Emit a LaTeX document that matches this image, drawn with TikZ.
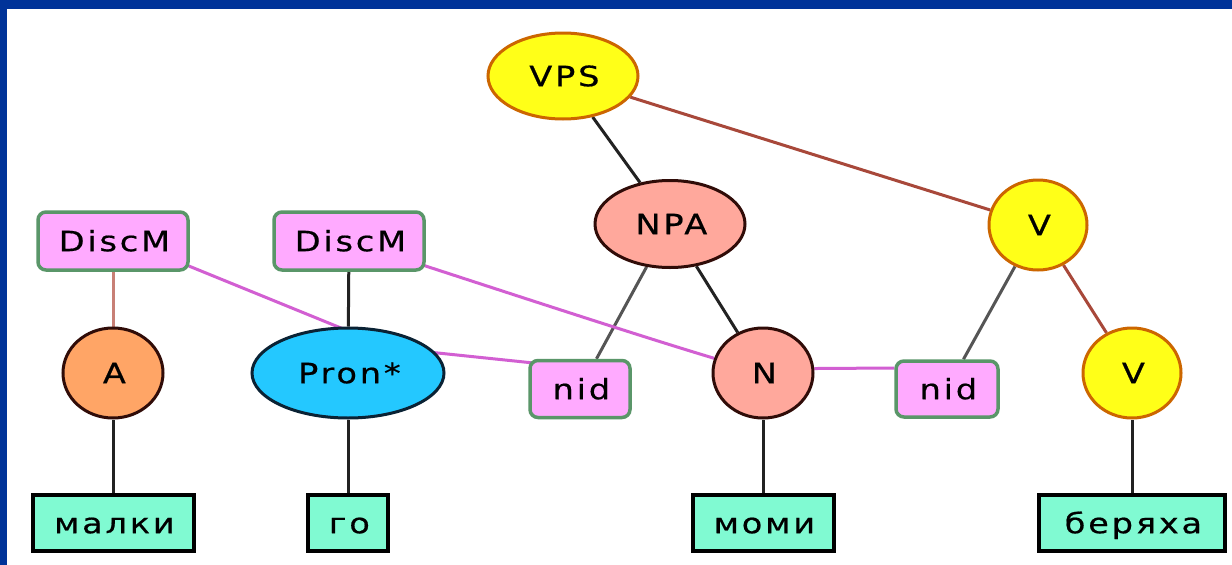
\documentclass[tikz,border=0pt]{standalone}
\usepackage{fontspec}
\setmainfont{DejaVu Sans}[LetterSpace=10,FakeStretch=1.2,FakeBold=0.6]
\usetikzlibrary{shapes.geometric,backgrounds,calc}

\definecolor{frameblue}{RGB}{0,51,153}
\definecolor{vpsfill}{RGB}{255,255,24}
\definecolor{vpsline}{RGB}{204,102,0}
\definecolor{npafill}{RGB}{255,168,156}
\definecolor{npaline}{RGB}{48,12,8}
\definecolor{afill}{RGB}{255,165,102}
\definecolor{pronfill}{RGB}{36,200,255}
\definecolor{pronline}{RGB}{10,34,52}
\definecolor{tagfill}{RGB}{255,170,255}
\definecolor{tagline}{RGB}{90,150,105}
\definecolor{wordfill}{RGB}{128,250,210}
\definecolor{treeline}{RGB}{34,34,34}
\definecolor{greyline}{RGB}{85,85,85}
\definecolor{verbline}{RGB}{168,72,58}
\definecolor{rosyline}{RGB}{200,128,118}
\definecolor{discline}{RGB}{210,95,210}

\begin{document}
\begin{tikzpicture}[x=1pt,y=-1pt,
  lbl/.style={font=\fontsize{28}{33}\selectfont, text=black, inner sep=0pt,
    text height=20.4pt, text depth=0pt, execute at begin node={\kern0.1em}},
  ellnode/.style={ellipse, draw, line width=3pt, lbl},
  vnode/.style={ellnode, fill=vpsfill, draw=vpsline},
  nnode/.style={ellnode, fill=npafill, draw=npaline},
  anode/.style={ellnode, fill=afill, draw=npaline},
  pnode/.style={ellnode, fill=pronfill, draw=pronline},
  tagbox/.style={rectangle, rounded corners=8pt, draw=tagline, fill=tagfill,
    line width=3.5pt, lbl},
  wordbox/.style={rectangle, draw=black, fill=wordfill, line width=4pt,
    minimum height=56pt, lbl},
  edge/.style={line width=3pt},
  treeedge/.style={edge, draw=treeline},
  greyedge/.style={edge, draw=greyline},
  verbedge/.style={edge, draw=verbline},
  rosyedge/.style={edge, draw=rosyline},
  discedge/.style={edge, draw=discline, line join=round}
]
\useasboundingbox (0,0) rectangle (1232,565);

% tree nodes
\node[vnode, minimum width=150pt, minimum height=86pt] (vps) at (563,76) {VPS};
\node[nnode, minimum width=150pt, minimum height=87pt] (npa) at (670,224) {NPA};
\node[vnode, minimum width=98pt, minimum height=90pt] (vt) at (1038,225) {V};
\node[vnode, minimum width=98pt, minimum height=90pt] (vb) at (1132,373) {V};
\node[tagbox, minimum width=102pt, minimum height=56pt] (nidr) at (947,389) {nid};
\node[tagbox, minimum width=150pt, minimum height=58pt] (dl) at (113,241) {DiscM};
\node[tagbox, minimum width=150pt, minimum height=58pt] (dr) at (349,241) {DiscM};
\node[anode, minimum width=100pt, minimum height=90pt] (a) at (113,373) {A};
\node[pnode, minimum width=192pt, minimum height=90pt] (pron) at (348,373) {Pron*};
\node[tagbox, minimum width=100pt, minimum height=57pt] (nidm) at (580,389) {nid};
\node[nnode, minimum width=100pt, minimum height=90pt] (n) at (763,373) {N};

% word boxes
\node[wordbox, minimum width=161pt] (w1) at (113,523) {малки};
\node[wordbox, minimum width=80pt] (w2) at (348,523) {го};
\node[wordbox, minimum width=141pt] (w3) at (763,523) {моми};
\node[wordbox, minimum width=186pt] (w4) at (1132,523) {беряха};

\begin{scope}[on background layer]
  % frame and panel
  \fill[frameblue] (0,0) rectangle (1232,565);
  \fill[white] (7,9) rectangle (1232,565);

  % constituent edges
  \draw[treeedge] (vps) -- (npa);
  \draw[verbedge] (vps) -- (vt);
  \draw[greyedge] (npa) -- (nidm);
  \draw[treeedge] (npa) -- (n);
  \draw[greyedge] (vt) -- (nidr);
  \draw[verbedge] (vt) -- (vb);
  \draw[rosyedge] (dl) -- (a);
  \draw[treeedge] (dr) -- (pron);

  % word links
  \draw[treeedge] (a) -- (w1);
  \draw[treeedge] (pron) -- (w2);
  \draw[treeedge] (n) -- (w3);
  \draw[treeedge] (vb) -- (w4);

  % discontinuity links
  \coordinate (bend) at (390,348);
  \draw[discedge] ([xshift=-4pt,yshift=7pt]dl.south east) -- (bend)
    -- ([xshift=3pt,yshift=-4pt]nidm.north west);
  \draw[discedge] ([xshift=-4pt,yshift=7pt]dr.south east)
    .. controls (530,300) and (640,336) .. (n);
  \draw[discedge] (n.5) -- ([yshift=21pt]nidr.west);
\end{scope}
\end{tikzpicture}
\end{document}
